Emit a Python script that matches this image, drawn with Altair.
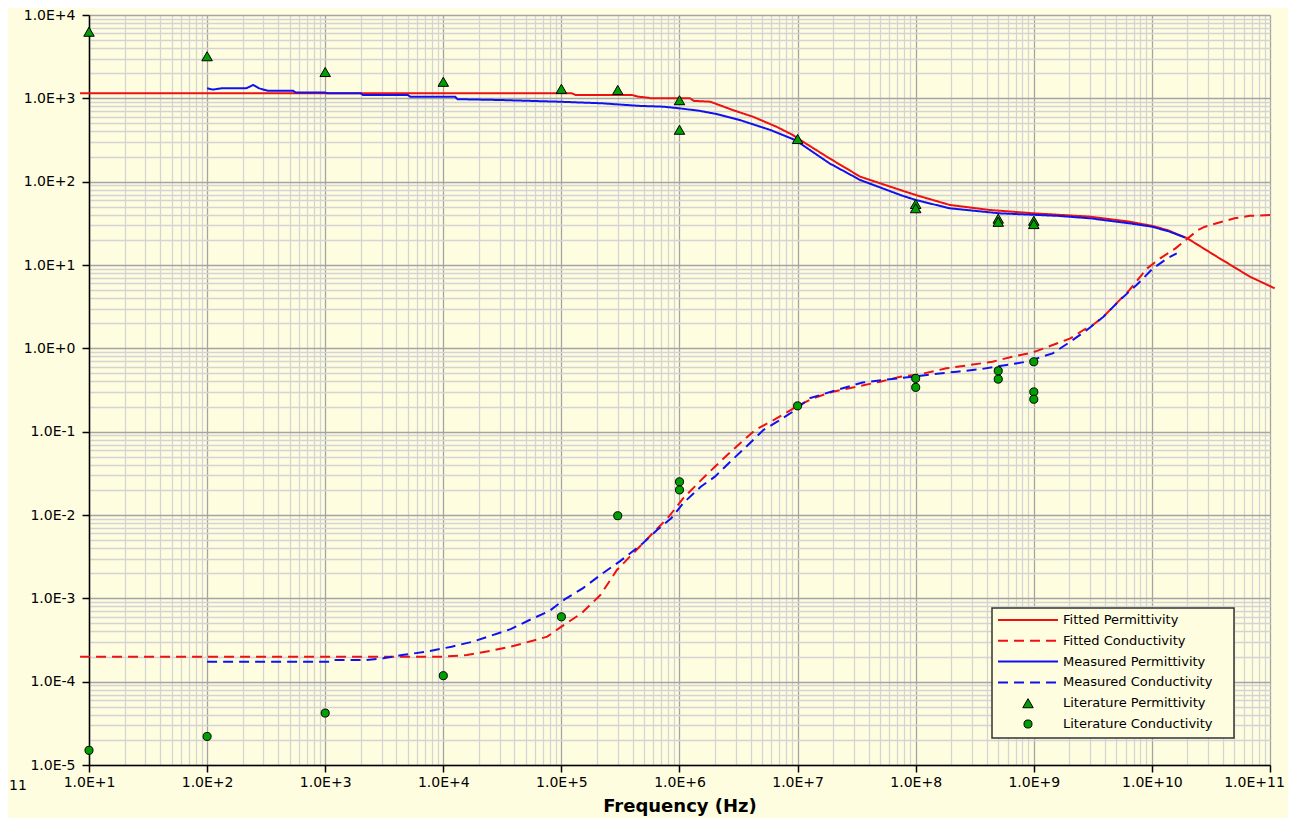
import altair as alt
import pandas as pd

# ---------------- data ----------------
fitted_perm_f = [8.4, 1.230e5, 1.318e5, 3.981e5, 4.467e5, 5.248e5, 5.754e5, 1.230e6, 1.318e6,
                 1.820e6, 2.818e6, 4.169e6, 6.607e6, 9.120e6, 1.0e7, 1.862e7, 3.388e7, 7.413e7,
                 1.0e8, 1.950e8, 4.266e8, 1.0e9, 3.020e9, 6.457e9, 1.0e10, 1.349e10, 1.995e10,
                 3.548e10, 6.761e10, 1.096e11]
fitted_perm_v = [1148, 1148, 1096, 1096, 1047, 1023, 1000, 1000, 933.3,
                 912.0, 724.4, 602.6, 457.1, 363.1, 331.1, 190.5, 114.8, 79.43,
                 69.18, 52.48, 45.71, 41.69, 38.02, 33.11, 29.51, 26.30, 20.89,
                 12.59, 7.244, 5.248]

meas_perm_f = [100, 112.2, 131.8, 213.8, 245.5, 275.4, 331.1, 537.0, 562.3, 1000,
               1047, 1995, 2089, 5012, 5248, 12590, 13180, 30200, 93330, 2.239e5,
               4.467e5, 7.244e5, 1.0e6, 1.479e6, 2.089e6, 3.236e6, 5.888e6, 9.550e6, 1.862e7, 3.388e7,
               7.413e7, 1.0e8, 1.950e8, 5.129e8, 1.585e9, 3.020e9, 6.457e9, 1.0e10, 1.413e10, 1.905e10]
meas_perm_v = [1318, 1274, 1318, 1318, 1445, 1318, 1230, 1230, 1175, 1175,
               1148, 1148, 1096, 1096, 1047, 1047, 977.2, 955.0, 912.0, 871.0,
               812.8, 794.3, 758.6, 707.9, 645.7, 549.5, 416.9, 316.2, 166.0, 104.7,
               69.18, 60.26, 47.86, 41.69, 38.90, 36.31, 31.62, 28.84, 25.12, 21.38]

fitted_cond_f = [8.4, 1.0e4, 1.585e4, 2.512e4, 3.981e4, 7.586e4, 1.0e5, 1.479e5, 2.138e5, 2.951e5,
                 3.802e5, 4.898e5, 8.128e5, 1.072e6, 1.479e6, 1.995e6, 2.818e6, 4.365e6, 6.457e6,
                 9.772e6, 1.349e7, 1.995e7, 3.162e7, 5.012e7, 7.413e7, 1.096e8, 1.820e8, 2.884e8,
                 4.467e8, 6.607e8, 9.772e8, 1.445e9, 2.042e9, 2.630e9, 3.162e9, 3.890e9, 5.012e9,
                 6.457e9, 9.120e9, 1.175e10, 1.585e10, 2.455e10, 2.818e10, 4.169e10, 5.012e10,
                 6.761e10, 1.072e11]
fitted_cond_v = [1.995e-4, 1.995e-4, 2.089e-4, 2.344e-4, 2.692e-4, 3.467e-4, 4.571e-4, 6.607e-4, 1.096e-3, 2.188e-3,
                 3.162e-3, 4.571e-3, 9.550e-3, 1.585e-2, 2.512e-2, 3.802e-2, 6.026e-2, 0.1047, 0.1413,
                 0.1995, 0.2512, 0.3020, 0.3467, 0.3981, 0.4571, 0.4898, 0.5754, 0.6310,
                 0.6918, 0.7943, 0.8913, 1.096, 1.318, 1.660, 1.905, 2.399, 3.467,
                 5.012, 9.120, 12.02, 15.85, 26.30, 28.84, 33.88, 36.31,
                 38.90, 39.81]

meas_cond_f = [100, 1096, 1148, 2239, 3090, 4467, 7244, 1.175e4, 1.778e4, 2.512e4,
               3.715e4, 5.370e4, 7.943e4, 1.072e5, 1.514e5, 2.138e5, 3.162e5, 4.898e5, 6.457e5, 8.511e5,
               1.072e6, 1.514e6, 1.995e6, 2.692e6, 3.802e6, 5.129e6, 7.079e6, 9.120e6, 1.259e7, 2.138e7,
               3.548e7, 6.026e7, 9.550e7, 1.413e8, 2.239e8, 3.548e8, 5.888e8, 8.710e8, 1.445e9, 2.042e9,
               2.818e9, 3.890e9, 5.370e9, 7.413e9, 1.023e10, 1.349e10, 1.622e10]
meas_cond_v = [1.738e-4, 1.738e-4, 1.820e-4, 1.820e-4, 1.905e-4, 2.089e-4, 2.291e-4, 2.630e-4, 3.020e-4, 3.548e-4,
               4.266e-4, 5.495e-4, 7.079e-4, 9.772e-4, 1.318e-3, 1.905e-3, 2.818e-3, 4.571e-3, 6.607e-3, 9.120e-3,
               1.380e-2, 2.188e-2, 2.884e-2, 4.365e-2, 6.918e-2, 0.1047, 0.1380, 0.1738, 0.2512, 0.3162,
               0.3890, 0.4266, 0.4571, 0.4898, 0.5248, 0.5623, 0.6310, 0.6918, 0.8710, 1.202,
               1.660, 2.399, 3.802, 5.754, 9.120, 12.02, 13.80]

lit_perm_f = [10, 100, 1000, 1e4, 1e5, 3e5, 1e6, 1e6, 1e7, 1e8, 1e8, 5e8, 5e8, 1e9, 1e9]
lit_perm_v = [6300, 3200, 2070, 1580, 1300, 1260, 950, 420, 325, 54, 48, 36, 33, 34, 31]

lit_cond_f = [10, 100, 1000, 1e4, 1e5, 3e5, 1e6, 1e6, 1e7, 1e8, 1e8, 5e8, 5e8, 1e9, 1e9, 1e9]
lit_cond_v = [1.5e-5, 2.2e-5, 4.2e-5, 1.18e-4, 6.0e-4, 9.8e-3, 2.5e-2, 2.0e-2, 0.204,
              0.436, 0.34, 0.537, 0.427, 0.69, 0.30, 0.245]

series_names = ["Fitted Permittivity", "Fitted Conductivity", "Measured Permittivity",
                "Measured Conductivity", "Literature Permittivity", "Literature Conductivity"]

# ---------------- styles ----------------
BG = "#fffde0"
RED = "#ee1111"
BLUE = "#1111ee"
GREEN = "#00a000"
FONT = "DejaVu Sans"
line_colors = [RED, RED, BLUE, BLUE]
line_dashes = [[1, 0], [10, 6], [1, 0], [10, 6]]

W, H = 1181, 750

rows = []
for name, fs, vs in [(series_names[0], fitted_perm_f, fitted_perm_v),
                     (series_names[1], fitted_cond_f, fitted_cond_v),
                     (series_names[2], meas_perm_f, meas_perm_v),
                     (series_names[3], meas_cond_f, meas_cond_v)]:
    for i, (f, v) in enumerate(zip(fs, vs)):
        rows.append({"series": name, "f": f, "v": v, "i": i})
lines_df = pd.DataFrame(rows)
tri_df = pd.DataFrame({"f": lit_perm_f, "v": lit_perm_v})
circ_df = pd.DataFrame({"f": lit_cond_f, "v": lit_cond_v})

x_ticks = [m * 10.0 ** k for k in range(1, 11) for m in range(1, 10)] + [1e11]
y_ticks = [m * 10.0 ** k for k in range(-5, 4) for m in range(1, 10)] + [1e4]

MAJOR = "abs(log(datum.value)/LN10 - round(log(datum.value)/LN10)) < 0.001"
EXP = "round(log(datum.value)/LN10)"
label_expr = f"({MAJOR}) ? '1.0E' + ({EXP} >= 0 ? '+' : '-') + abs({EXP}) : ''"

common_axis = dict(
    labelExpr=label_expr, labelOverlap=False, labelFont=FONT, labelFontSize=14,
    labelColor="black",
    gridColor={"condition": {"test": MAJOR, "value": "#a4a4a4"}, "value": "#d4d4d4"},
    gridWidth=1.3,
    tickColor={"condition": {"test": MAJOR, "value": "black"}, "value": "transparent"},
    tickSize=7, tickWidth=1.5, domainColor="black", domainWidth=1.5,
)
x_axis = alt.Axis(values=x_ticks, title="Frequency (Hz)", titleFont=FONT, titleFontSize=18,
                  titleFontWeight="bold", titleColor="black", titlePadding=8,
                  labelPadding=3, labelFlush=False,
                  labelOffset={"condition": {"test": "datum.value > 5e10", "value": -16}, "value": 0},
                  **common_axis)
y_axis = alt.Axis(values=y_ticks, title="", labelPadding=7, **common_axis)

xs = alt.Scale(type="log", domain=[10, 1e11], nice=False)
ys = alt.Scale(type="log", domain=[1e-5, 1e4], nice=False)
X = alt.X("f:Q", scale=xs, axis=x_axis)
Y = alt.Y("v:Q", scale=ys, axis=y_axis)

lines = alt.Chart(lines_df).mark_line(strokeWidth=2).encode(
    x=X, y=Y,
    color=alt.Color("series:N", scale=alt.Scale(domain=series_names[:4], range=line_colors), legend=None),
    strokeDash=alt.StrokeDash("series:N", scale=alt.Scale(domain=series_names[:4], range=line_dashes), legend=None),
    detail="series:N",
    order="i:Q",
)

tris = alt.Chart(tri_df).mark_point(shape="triangle-up", filled=True, fill=GREEN, stroke="black",
                                    strokeWidth=1, size=110, opacity=1).encode(x=X, y=Y)
circs = alt.Chart(circ_df).mark_point(shape="circle", filled=True, fill=GREEN, stroke="black",
                                      strokeWidth=1, size=65, opacity=1).encode(x=X, y=Y)

# ---------------- legend (drawn by hand) ----------------
one = pd.DataFrame({"k": [0]})
LX0, LX1, LY0, LY1 = 903, 1145, 593, 723
row_y = [605 + 20.8 * i for i in range(6)]
legend = [alt.Chart(one).mark_rect(fill=BG, stroke="#333333", strokeWidth=1.5).encode(
    x=alt.value(LX0), x2=alt.value(LX1), y=alt.value(LY0), y2=alt.value(LY1))]
for i in range(4):
    kw = dict(color=line_colors[i], strokeWidth=2)
    if line_dashes[i] != [1, 0]:
        kw["strokeDash"] = line_dashes[i]
    legend.append(alt.Chart(one).mark_rule(**kw).encode(
        x=alt.value(909), x2=alt.value(969), y=alt.value(row_y[i])))
legend.append(alt.Chart(one).mark_point(shape="triangle-up", filled=True, fill=GREEN, stroke="black",
                                        strokeWidth=1, size=110, opacity=1).encode(
    x=alt.value(939), y=alt.value(row_y[4])))
legend.append(alt.Chart(one).mark_point(shape="circle", filled=True, fill=GREEN, stroke="black",
                                        strokeWidth=1, size=65, opacity=1).encode(
    x=alt.value(939), y=alt.value(row_y[5])))
for i, name in enumerate(series_names):
    legend.append(alt.Chart(one).mark_text(text=name, align="left", baseline="middle", font=FONT,
                                           fontSize=13, color="black").encode(
        x=alt.value(974), y=alt.value(row_y[i])))

stray = alt.Chart(one).mark_text(text="11", align="left", baseline="middle", font=FONT,
                                 fontSize=14, color="black").encode(x=alt.value(-80), y=alt.value(771))

chart = alt.layer(lines, tris, circs, *legend, stray).properties(
    width=W, height=H,
    autosize=alt.AutoSizeParams(type="none"),
    padding={"left": 81, "top": 7, "right": 18, "bottom": 53},
).configure(background=BG).configure_view(strokeWidth=0)

chart.save("out.html", embed_options={"renderer": "svg", "actions": False})
